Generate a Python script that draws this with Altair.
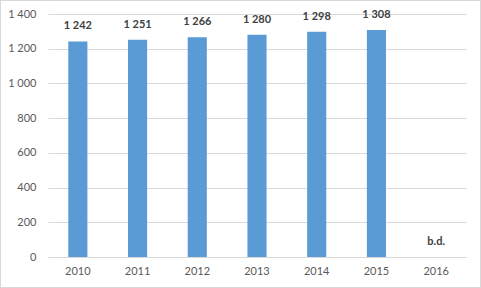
import altair as alt
import pandas as pd

years = ["2010", "2011", "2012", "2013", "2014", "2015", "2016"]
values = [1242, 1251, 1266, 1280, 1298, 1308, None]
labels = ["1 242", "1 251", "1 266", "1 280", "1 298", "1 308", "b.d."]
yticks = [0, 200, 400, 600, 800, 1000, 1200, 1400]

df = pd.DataFrame({"year": years, "value": values, "label": labels})
df["labely"] = df["value"].fillna(0)

W, H = 418, 243
PL, PT, PR, PB = 48, 14, 15, 31
FONT = "Lato"

x = alt.X("year:N", title=None, sort=years,
          scale=alt.Scale(paddingInner=0.68, paddingOuter=0.34),
          axis=alt.Axis(labelAngle=0, ticks=False, domainColor="#d9d9d9",
                        labelColor="#595959", labelFont=FONT, labelFontSize=11,
                        labelPadding=8, grid=False))
yscale = alt.Scale(domain=[0, 1400], nice=False)

bars = alt.Chart(df).mark_bar(color="#5B9BD5").encode(
    x=x,
    y=alt.Y("value:Q", title=None, scale=yscale,
            axis=alt.Axis(values=yticks, tickCount=8, labelOverlap=False,
                          labelExpr="replace(format(datum.value, ','), ',', ' ')",
                          domain=False, ticks=False, gridColor="#d9d9d9",
                          labelColor="#595959", labelFont=FONT, labelFontSize=11,
                          labelPadding=12)),
)

text = alt.Chart(df).mark_text(fontWeight="bold", color="#404040", font=FONT,
                               fontSize=11, dy=-10, baseline="bottom").encode(
    x=alt.X("year:N", sort=years),
    y=alt.Y("labely:Q", scale=yscale),
    text="label:N",
)

frame = alt.Chart(df).mark_rect(fill=None, stroke="#d9d9d9", strokeWidth=1).encode(
    x=alt.value(-PL + 0.5), x2=alt.value(W + PR - 0.5),
    y=alt.value(-PT + 0.5), y2=alt.value(H + PB - 0.5),
)

chart = alt.layer(bars, text, frame).properties(
    width=W, height=H,
    padding={"left": PL, "top": PT, "right": PR, "bottom": PB},
    autosize=alt.AutoSizeParams(type="none"),
    background="white",
).configure_view(stroke=None)

chart.save("out.html", embed_options={"renderer": "svg", "actions": False})
